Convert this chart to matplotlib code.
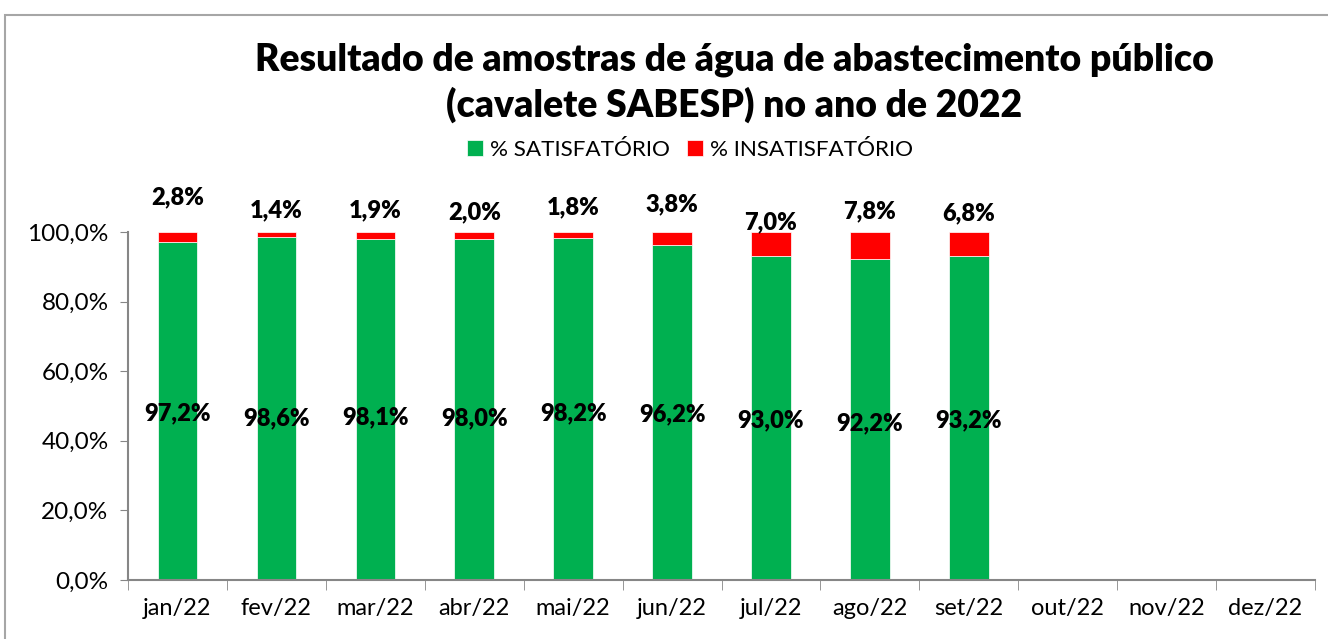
import numpy as np
import matplotlib.pyplot as plt
from matplotlib.patches import Rectangle

plt.rcParams['font.family'] = ['Lato', 'DejaVu Sans']

months = ['jan/22', 'fev/22', 'mar/22', 'abr/22', 'mai/22', 'jun/22',
          'jul/22', 'ago/22', 'set/22', 'out/22', 'nov/22', 'dez/22']
satisf = [97.2, 98.6, 98.1, 98.0, 98.2, 96.2, 93.0, 92.2, 93.2]
insatisf = [2.8, 1.4, 1.9, 2.0, 1.8, 3.8, 7.0, 7.8, 6.8]
yticks = [0, 20, 40, 60, 80, 100]

# where excel left the data labels (hand-placed in the original)
sat_label_y = [48.0, 46.6, 46.8, 46.6, 48.0, 47.7, 46.0, 45.1, 46.0]
ins_label_y = [110.1, 106.3, 106.3, 105.7, 107.2, 108.0, 102.9, 106.0, 105.5]

green = '#00B050'
red = '#FF0000'
grey = '#868686'

fig = plt.figure(figsize=(13.28, 6.39), dpi=100)
ax = fig.add_axes([128/1328, 1-580/639, (1315-128)/1328, (580-232)/639])

# outer chart frame
fig.patches.append(Rectangle((5/1328, -0.1), 1.1, 1-15/639+0.1, transform=fig.transFigure,
                             fill=False, edgecolor='#a6a6a6', linewidth=1.5))

x = np.arange(len(satisf))
ax.bar(x, satisf, width=0.4, color=green, edgecolor='white', linewidth=0.5, label='% SATISFATÓRIO')
ax.bar(x, insatisf, width=0.4, bottom=satisf, color=red, edgecolor='white', linewidth=0.5,
       label='% INSATISFATÓRIO')

for i in range(len(satisf)):
    ax.text(x[i], sat_label_y[i], '{:.1f}%'.format(satisf[i]).replace('.', ','),
            ha='center', va='center', fontsize=17, fontweight='heavy')
    ax.text(x[i], ins_label_y[i], '{:.1f}%'.format(insatisf[i]).replace('.', ','),
            ha='center', va='center', fontsize=17, fontweight='heavy', clip_on=False)

ax.set_xlim(-0.5, len(months) - 0.5)
ax.set_ylim(0, 100)
ax.set_xticks(np.arange(len(months)))
ax.set_xticklabels(months, fontsize=17)
ax.set_xticks(np.arange(len(months) + 1) - 0.5, minor=True)
ax.tick_params(axis='x', which='major', length=0, pad=13)
ax.tick_params(axis='x', which='minor', length=7, color=grey, direction='out')
ax.set_yticks(yticks)
ax.set_yticklabels(['{:.1f}%'.format(v).replace('.', ',') for v in yticks], fontsize=17.5)
ax.tick_params(axis='y', length=6, color=grey, direction='out', pad=8)

for s in ['top', 'right']:
    ax.spines[s].set_visible(False)
for s in ['left', 'bottom']:
    ax.spines[s].set_color(grey)
    ax.spines[s].set_linewidth(1.5)

fig.text(734/1328, 1-83/639, 'Resultado de amostras de água de abastecimento público\n(cavalete SABESP) no ano de 2022',
         ha='center', va='center', fontsize=26.8, fontweight='heavy', linespacing=1.32)

fig.legend(loc='center', bbox_to_anchor=(690/1328, 1-150/639), ncol=2, frameon=False,
           fontsize=16.2, handlelength=0.7, handleheight=0.7, handletextpad=0.3, columnspacing=0.8)

fig.savefig('out.png', dpi=100)
